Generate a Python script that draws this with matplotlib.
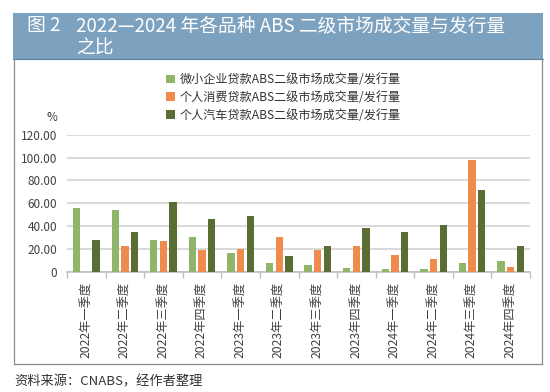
import numpy as np
import matplotlib
matplotlib.use('Agg')
from matplotlib import pyplot as plt
from matplotlib.patches import Rectangle, Patch
from matplotlib.lines import Line2D

plt.rcParams['font.family'] = ['Noto Sans CJK SC', 'DejaVu Sans']

# data
quarters = ['2022年一季度', '2022年二季度', '2022年三季度', '2022年四季度',
            '2023年一季度', '2023年二季度', '2023年三季度', '2023年四季度',
            '2024年一季度', '2024年二季度', '2024年三季度', '2024年四季度']
micro = [55.6, 54.1, 27.6, 30.6, 16.5, 8.2, 6.5, 3.5, 3.0, 2.9, 7.6, 9.7]
consumer = [0.0, 22.4, 26.8, 19.1, 20.3, 30.6, 18.8, 22.4, 14.6, 11.7, 97.8, 4.7]
auto = [27.9, 34.7, 61.2, 45.9, 48.8, 14.4, 22.9, 38.8, 34.8, 41.3, 71.4, 22.3]
series_names = ['微小企业贷款ABS二级市场成交量/发行量',
                '个人消费贷款ABS二级市场成交量/发行量',
                '个人汽车贷款ABS二级市场成交量/发行量']
colors = ['#8fb56a', '#ef8c4d', '#5a6d34']
yticks = [0, 20, 40, 60, 80, 100, 120]
ytick_labels = ['0', '20.00', '40.00', '60.00', '80.00', '100.00', '120.00']

W, H = 550, 392
fig = plt.figure(figsize=(W / 100, H / 100), dpi=100)

# title band
fig.patches.append(Rectangle((13 / W, 1 - 59 / H), 530 / W, 46 / H,
                             transform=fig.transFigure, facecolor='#7da2c0',
                             edgecolor='none', zorder=0))
fig.lines.append(Line2D([13 / W, 543 / W], [1 - 59 / H, 1 - 59 / H],
                        transform=fig.transFigure, color='#5f7f99', lw=0.8))
fig.text(27 / W, 1 - 26 / H, '图 2', color='white', fontsize=13.5, va='center')
fig.text(76 / W, 1 - 26 / H, '2022—2024 年各品种 ABS 二级市场成交量与发行量',
         color='white', fontsize=13.5, va='center')
fig.text(76 / W, 1 - 48 / H, '之比', color='white', fontsize=13.5, va='center')

# frame around the chart
box_col = '#8c8c8c'
fig.lines.append(Line2D([13.5 / W, 13.5 / W], [1 - 59 / H, 1 - 363.5 / H],
                        transform=fig.transFigure, color=box_col, lw=0.9))
fig.lines.append(Line2D([542 / W, 542 / W], [1 - 59 / H, 1 - 363.5 / H],
                        transform=fig.transFigure, color=box_col, lw=0.9))
fig.lines.append(Line2D([13.5 / W, 542 / W], [1 - 363.5 / H, 1 - 363.5 / H],
                        transform=fig.transFigure, color=box_col, lw=0.9))

fig.text(14 / W, 1 - 382 / H, '资料来源：CNABS，经作者整理', color='#333333',
         fontsize=9.5, va='center')

ax = fig.add_axes([67 / W, 1 - 272 / H, 463 / W, 137.3 / H])
x = np.arange(len(quarters))
bw = 0.19
offsets = [-0.25, 0.0, 0.25]
for vals, off, col, name in zip([micro, consumer, auto], offsets, colors, series_names):
    ax.bar(x + off, vals, width=bw, color=col, label=name, zorder=3)

ax.set_xlim(-0.5, len(quarters) - 0.5)
ax.set_ylim(0, 120)
ax.set_yticks(yticks)
ax.set_yticklabels(ytick_labels)
ax.grid(axis='y', color='#d9d9d9', lw=1.4, zorder=0)
for side in ['top', 'right', 'left']:
    ax.spines[side].set_visible(False)
ax.spines['bottom'].set_color('#bfbfbf')
ax.spines['bottom'].set_linewidth(1.2)
ax.tick_params(axis='y', length=0, labelsize=8.5, labelcolor='#404040', pad=7)
ax.set_xticks(x)
ax.set_xticklabels(quarters, rotation=90, fontsize=8.8, color='#404040')
ax.tick_params(axis='x', length=0, pad=7)
ax.set_xticks(np.arange(-0.5, len(quarters)), minor=True)
ax.tick_params(axis='x', which='minor', length=4, color='#bfbfbf', width=1)
ax.text(52 / W, 1 - 117 / H, '%', transform=fig.transFigure, fontsize=8.5,
        color='#404040', va='center', ha='center')

handles = [Patch(facecolor=c) for c in colors]
fig.legend(handles, series_names, loc='upper left',
           bbox_to_anchor=(160 / W, 1 - 67 / H), frameon=False, fontsize=8.7,
           handlelength=0.7, handleheight=0.7, handletextpad=0.4,
           labelspacing=0.4, borderpad=0, labelcolor='#333333')

fig.savefig('out.png', dpi=100)
